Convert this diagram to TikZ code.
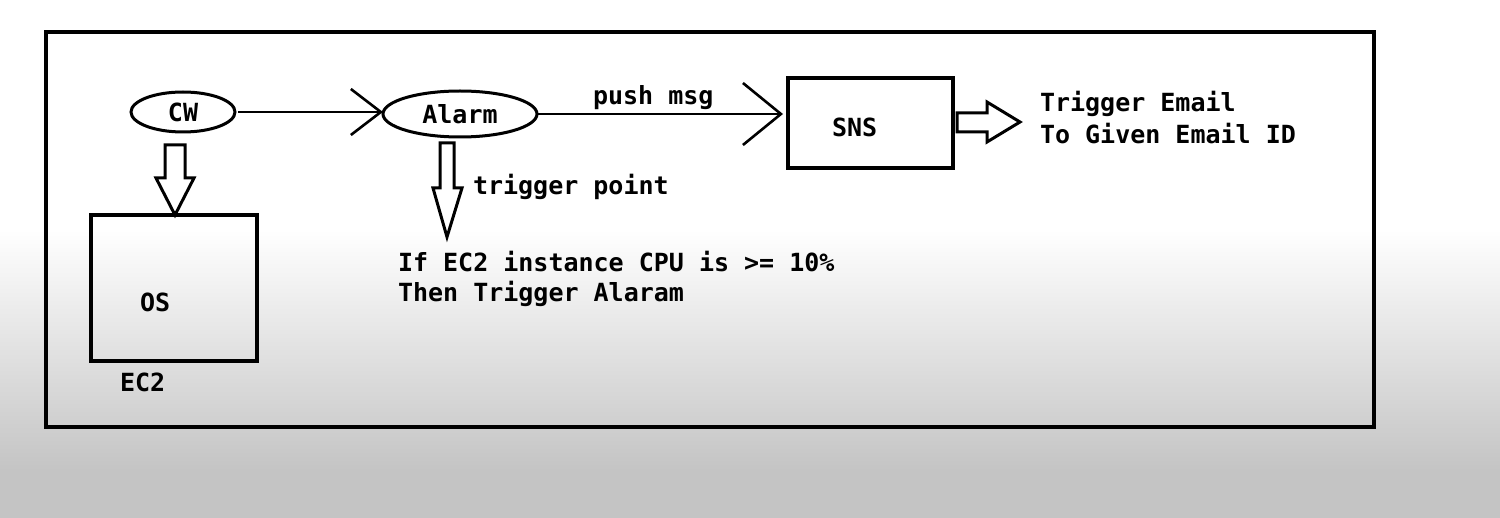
\documentclass[tikz,border=0pt]{standalone}
\usepackage{fontspec}
\setmainfont{DejaVu Sans Mono}
\usetikzlibrary{arrows.meta,shapes.geometric,calc}
\definecolor{bggray}{RGB}{196,196,196}
\begin{document}
\begin{tikzpicture}[x=0.5pt,y=-0.5pt,
  every node/.style={font=\fontsize{12.5}{15.5}\selectfont\bfseries, inner sep=0pt, outer sep=0pt},
  oval/.style={draw, ellipse, line width=1.5pt},
  boxnode/.style={draw, rectangle, line width=1.6pt},
  lbl/.style={anchor=base west},
  barbA/.style={line width=1.3pt, -{Straight Barb[length=15pt,width=23pt]}},
  barbB/.style={line width=1.3pt, -{Straight Barb[length=19pt,width=31pt]}},
  hollow/.style={draw, line width=1.5pt, line join=miter, fill=white}
]
% background
\useasboundingbox (0,0) rectangle (1500,518);
\fill[white] (0,0) rectangle (1500,230);
\shade[top color=white, bottom color=bggray] (0,229) rectangle (1500,471);
\fill[bggray] (0,470) rectangle (1500,518);

% frame
\node[boxnode, line width=1.75pt, minimum width=664pt, minimum height=197.5pt] (frame) at (710,229.5) {};

% nodes
\node[oval, minimum width=52pt, minimum height=20pt] (cw) at (183,112) {CW};
\node[oval, minimum width=77pt, minimum height=23pt] (alarm) at (460,114) {Alarm};
\node[boxnode, minimum width=82.5pt, minimum height=45pt] (sns) at (870.5,123) {};
\node[lbl] (snst) at (832,137) {SNS};
\node[boxnode, minimum width=83pt, minimum height=73pt] (os) at (174,288) {};
\node[lbl] (ost) at (140,312) {OS};
\node[lbl] (ec2) at (120,392) {EC2};

% connectors
\draw[barbA, shorten <=1.5pt] (cw.east) -- (cw.east -| alarm.west);
\draw[barbB, shorten >=2.5pt] (alarm.east) -- (alarm.east -| sns.west);
\node[lbl] (push) at (593,105) {push msg};

% hollow block arrows
\draw[hollow] (165,145) -- (185,145) -- (185,178) -- (194,178) -- (175,215) -- (156,178) -- (165,178) -- cycle;
\draw[hollow] (440,143) -- (454,143) -- (454,188) -- (462,188) -- (447,237) -- (433,188) -- (440,188) -- cycle;
\draw[hollow] (957,113) -- (987,113) -- (987,102) -- (1020,122) -- (987,142) -- (987,132) -- (957,132) -- cycle;

% texts
\node[lbl] (tp) at (473,195) {trigger point};
\node[lbl] (cond1) at (398,272) {If EC2 instance CPU is >= 10\%};
\node[lbl] (cond2) at (398,302) {Then Trigger Alaram};
\node[lbl] (mail1) at (1040,112) {Trigger Email};
\node[lbl] (mail2) at (1040,144) {To Given Email ID};
\end{tikzpicture}
\end{document}
